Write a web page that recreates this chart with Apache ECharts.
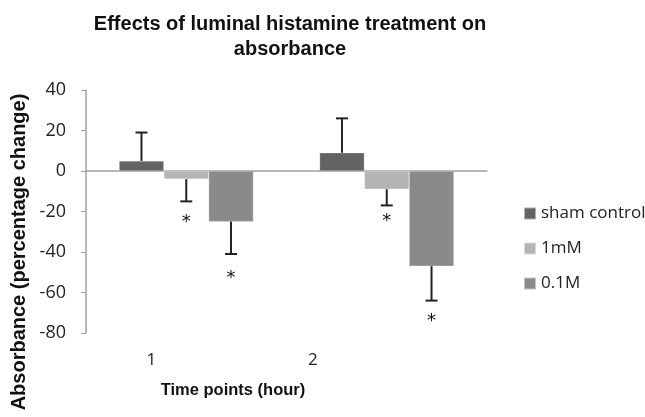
<!DOCTYPE html>
<html>
<head>
<meta charset="utf-8">
<script src="https://cdn.jsdelivr.net/npm/echarts@6/dist/echarts.min.js"></script>
<style>
  html, body { margin: 0; padding: 0; background: #fff; }
  #main { width: 645px; height: 417px; }
</style>
</head>
<body>
<div id="main"></div>
<script>
var categories = ['1', '2'];
var seriesNames = ['sham control', '1mM', '0.1M'];
var shamValues = [5, 9];
var mM1Values = [-4, -9];
var m01Values = [-25, -47];
// error bar end points (drawn away from zero only)
var shamErr = [19, 26];
var mM1Err = [-15, -17];
var m01Err = [-41, -64];
// significance stars: [category index, series index, value]
var stars = [[0, 1, -25.5], [0, 2, -53], [1, 1, -25], [1, 2, -74]];

var colors = ['#636363', '#b4b4b4', '#8a8a8a'];
var catGap = 0.33;

var chart = echarts.init(document.getElementById('main'));

function barOffset(api, s) {
    var band = api.size([1, 0])[0];
    var bw = band * (1 - catGap) / 3;
    return (s - 1) * bw;
}

var errData = [];
[shamValues, mM1Values, m01Values].forEach(function (vals, s) {
    var ends = [shamErr, mM1Err, m01Err][s];
    vals.forEach(function (v, i) {
        errData.push([i, v, ends[i], s]);
    });
});

chart.setOption({
    animation: false,
    color: colors,
    title: {
        text: 'Effects of luminal histamine treatment on\nabsorbance',
        left: 285,
        textAlign: 'center',
        top: 7,
        textStyle: {
            fontFamily: 'Liberation Sans',
            fontWeight: 'bold',
            fontSize: 20,
            lineHeight: 25,
            color: '#111'
        }
    },
    legend: {
        orient: 'vertical',
        left: 518,
        top: 200,
        itemWidth: 12,
        itemHeight: 12,
        itemGap: 18,
        icon: 'rect',
        textStyle: { fontFamily: 'Open Sans', fontSize: 17, color: '#222' },
        data: seriesNames
    },
    grid: { left: 86, right: 158, top: 90, bottom: 84 },
    xAxis: {
        type: 'category',
        data: categories,
        axisLine: { onZero: true, lineStyle: { color: '#a0a0a0', width: 1.5 } },
        axisTick: { show: false },
        axisLabel: {
            interval: 0,
            margin: 19,
            formatter: function (v, i) { return '{c' + i + '|' + v + '}'; },
            rich: {
                c0: { fontFamily: 'Open Sans', fontSize: 17, color: '#222', padding: [0, 70, 0, 0] },
                c1: { fontFamily: 'Open Sans', fontSize: 17, color: '#222', padding: [0, 148, 0, 0] }
            }
        }
    },
    yAxis: {
        type: 'value',
        min: -80,
        max: 40,
        interval: 20,
        splitLine: { show: false },
        axisLine: { show: true, lineStyle: { color: '#a0a0a0', width: 1.5 } },
        axisTick: { show: true, length: 5, lineStyle: { color: '#a0a0a0' } },
        axisLabel: { fontFamily: 'Open Sans', fontSize: 18, color: '#222', margin: 20 }
    },
    graphic: [
        {
            type: 'text',
            x: 19, y: 252,
            rotation: Math.PI / 2,
            style: {
                text: 'Absorbance (percentage change)',
                fontFamily: 'Liberation Sans',
                fontWeight: 'bold',
                fontSize: 20,
                fill: '#111',
                align: 'center',
                verticalAlign: 'middle'
            }
        },
        {
            type: 'text',
            x: 233, y: 390,
            style: {
                text: 'Time points (hour)',
                fontFamily: 'Liberation Sans',
                fontWeight: 'bold',
                fontSize: 16.5,
                fill: '#111',
                align: 'center',
                verticalAlign: 'middle'
            }
        }
    ],
    series: [
        { name: seriesNames[0], type: 'bar', data: shamValues, barGap: '0%', barCategoryGap: '33%',
          itemStyle: { borderColor: 'rgba(255,255,255,0.5)', borderWidth: 0.5 } },
        { name: seriesNames[1], type: 'bar', data: mM1Values,
          itemStyle: { borderColor: 'rgba(255,255,255,0.5)', borderWidth: 0.5 } },
        { name: seriesNames[2], type: 'bar', data: m01Values,
          itemStyle: { borderColor: 'rgba(255,255,255,0.5)', borderWidth: 0.5 } },
        {
            type: 'custom',
            z: 10,
            data: errData,
            renderItem: function (params, api) {
                var s = api.value(3);
                var off = barOffset(api, s);
                var p0 = api.coord([api.value(0), api.value(1)]);
                var p1 = api.coord([api.value(0), api.value(2)]);
                var x = p0[0] + off;
                var cap = 6;
                var st = { stroke: '#222', lineWidth: 2 };
                return {
                    type: 'group',
                    children: [
                        { type: 'line', shape: { x1: x, y1: p0[1], x2: x, y2: p1[1] }, style: st },
                        { type: 'line', shape: { x1: x - cap, y1: p1[1], x2: x + cap, y2: p1[1] }, style: st }
                    ]
                };
            }
        },
        {
            type: 'custom',
            z: 10,
            data: stars,
            renderItem: function (params, api) {
                var off = barOffset(api, api.value(1));
                var p = api.coord([api.value(0), api.value(2)]);
                return {
                    type: 'text',
                    x: p[0] + off, y: p[1],
                    style: {
                        text: '*',
                        fontFamily: 'DejaVu Sans',
                        fontSize: 18,
                        fill: '#111',
                        align: 'center',
                        verticalAlign: 'middle'
                    }
                };
            }
        }
    ]
});
</script>
</body>
</html>
